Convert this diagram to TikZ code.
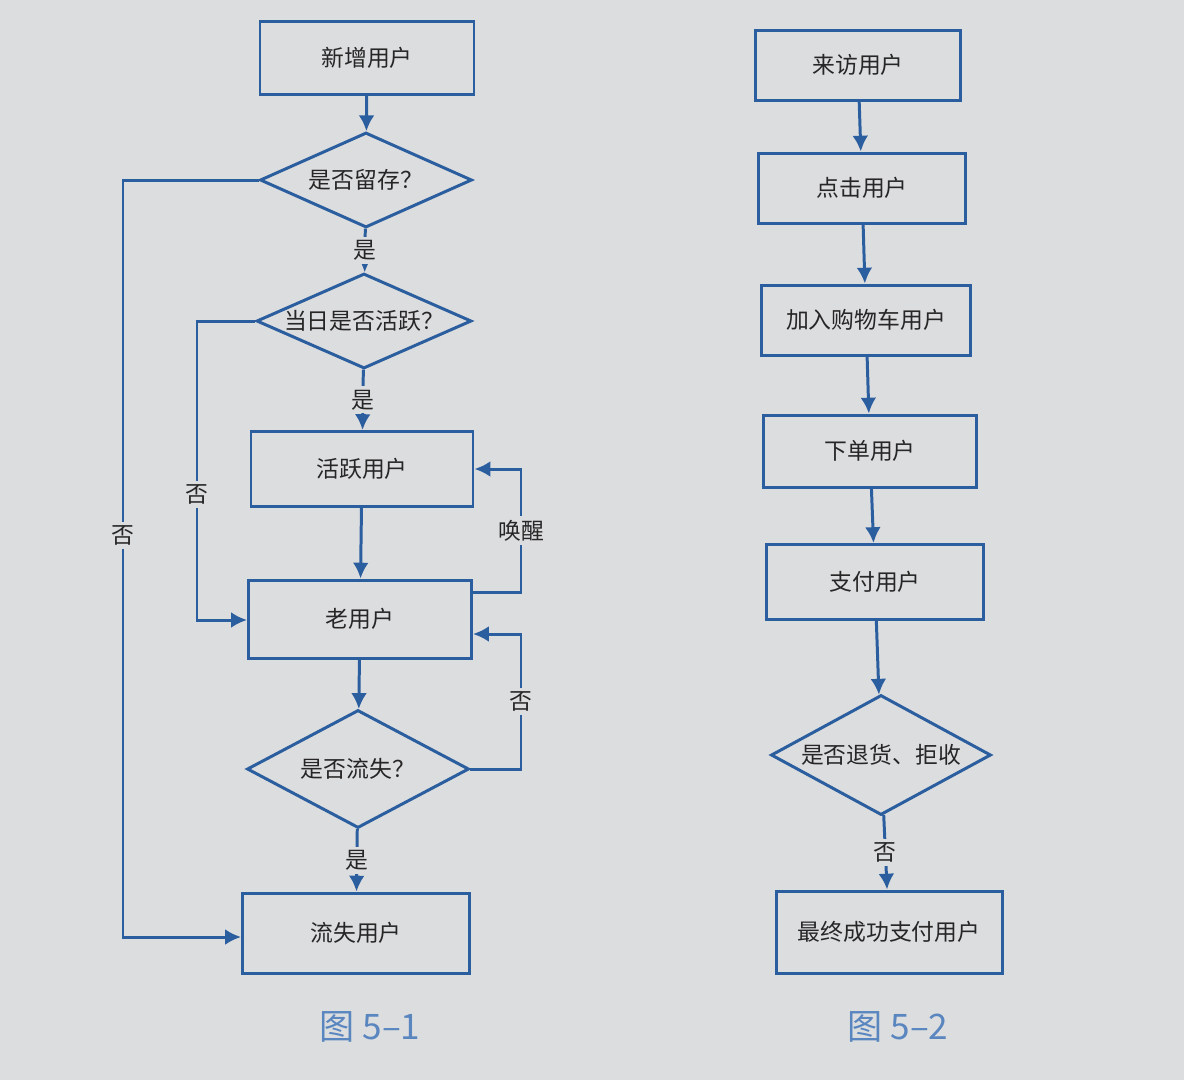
\documentclass[tikz,border=0pt]{standalone}
\usepackage{fontspec}
\newfontfamily\cjk{Noto Sans CJK SC}
\usetikzlibrary{shapes.geometric,arrows.meta}
\definecolor{bg}{HTML}{DCDDDF}
\definecolor{ln}{HTML}{2B5E9E}
\definecolor{cap}{HTML}{5A86C0}
\begin{document}
\begin{tikzpicture}[x=0.02cm,y=-0.02cm,
  every node/.style={font=\cjk\fontsize{13}{15}\selectfont,text=black!85},
  box/.style={draw=ln,line width=1.7pt,inner sep=0pt},
  dia/.style={draw=ln,line width=1.7pt,diamond,aspect=2.2,inner sep=0pt},
  con/.style={draw=ln,line width=1.7pt,-{Latex[length=9pt,width=9pt]}},
  lab/.style={fill=bg,inner sep=2pt},
  capn/.style={text=cap,font=\cjk\fontsize{20}{24}\selectfont}]
\fill[bg] (0,0) rectangle (1184,1080);
% left chart
\node[box,minimum width=214*0.02cm,minimum height=73*0.02cm] (a) at (367,58) {新增用户};
\node[dia,minimum width=212*0.02cm,minimum height=95*0.02cm] (d1) at (366,180) {是否留存？};
\node[dia,minimum width=215*0.02cm,minimum height=95*0.02cm] (d2) at (364,321) {当日是否活跃？};
\node[box,minimum width=222*0.02cm,minimum height=75*0.02cm] (b) at (362,469) {活跃用户};
\node[box,minimum width=223*0.02cm,minimum height=78*0.02cm] (c) at (360,619) {老用户};
\node[dia,minimum width=222*0.02cm,minimum height=118*0.02cm] (d3) at (358,769) {是否流失？};
\node[box,minimum width=227*0.02cm,minimum height=80*0.02cm] (e) at (356,933) {流失用户};
\draw[con] (a) -- (d1);
\draw[con] (d1) -- node[lab]{是} (d2);
\draw[con] (d2) -- node[lab]{是} (b);
\draw[con] (b) -- (c);
\draw[con] (c) -- (d3);
\draw[con] (d3) -- node[lab]{是} (e);
\draw[con] (d1.west) -- (123,180) -- node[lab,pos=0.47]{否} (123,937) -- (e.west |- 0,937);
\draw[con] (d2.west) -- (197,321) -- node[lab,pos=0.58]{否} (197,620) -- (c.west |- 0,620);
\draw[con] (c.east |- 0,592) -- (521,592) -- node[lab]{唤醒} (521,469) -- (b.east);
\draw[con] (d3.east) -- (521,769) -- node[lab]{否} (521,634) -- (c.east |- 0,634);
\node[capn] (c1) at (370,1027) {图 5–1};
% right chart
\node[box,minimum width=205*0.02cm,minimum height=70*0.02cm] (r1) at (858,65) {来访用户};
\node[box,minimum width=207*0.02cm,minimum height=70*0.02cm] (r2) at (862,188) {点击用户};
\node[box,minimum width=209*0.02cm,minimum height=70*0.02cm] (r3) at (866,320) {加入购物车用户};
\node[box,minimum width=213*0.02cm,minimum height=72*0.02cm] (r4) at (870,451) {下单用户};
\node[box,minimum width=217*0.02cm,minimum height=75*0.02cm] (r5) at (875,582) {支付用户};
\node[dia,minimum width=220*0.02cm,minimum height=120*0.02cm] (r6) at (881,755) {是否退货、拒收};
\node[box,minimum width=226*0.02cm,minimum height=82*0.02cm] (r7) at (889,932) {最终成功支付用户};
\draw[con] (r1) -- (r2);
\draw[con] (r2) -- (r3);
\draw[con] (r3) -- (r4);
\draw[con] (r4) -- (r5);
\draw[con] (r5) -- (r6);
\draw[con] (r6) -- node[lab]{否} (r7);
\node[capn] (c2) at (898,1027) {图 5–2};
\end{tikzpicture}
\end{document}
